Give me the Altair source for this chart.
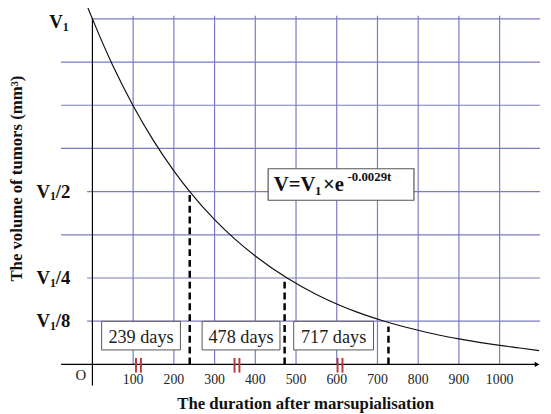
import altair as alt
import pandas as pd

FONT = "Liberation Serif"
GRID = "#7a7ac6"

# ---- data ----
curve_t = [-13, 0, 50, 100, 150, 200, 239, 300, 350, 400, 478, 550, 600, 650, 717,
           800, 850, 900, 950, 1000, 1050, 1097]
curve_v = [8.3, 8.0, 6.92, 5.99, 5.18, 4.48, 4.0, 3.35, 2.90, 2.51, 2.0, 1.62, 1.40,
           1.21, 1.0, 0.79, 0.68, 0.59, 0.51, 0.44, 0.38, 0.32]
x_ticks = [100, 200, 300, 400, 500, 600, 700, 800, 900, 1000]
grid_plain = [3, 5, 6, 7]
grid_labeled = [1, 2, 4]
label_suffix = ["/8", "/4", "/2"]
day_labels = ["239 days", "478 days", "717 days"]
day_box_start = [22.6, 269.4, 494.3]
day_box_end = [216.1, 460.6, 690.3]
dash_t = [239, 472, 727]
dash_top = [4.0, 2.0, 0.88]
break_t = [113, 355, 608]

XS = alt.Scale(domain=[-207.3, 1106.5], nice=False, zero=False)
YS = alt.Scale(domain=[-1.079, 8.182], nice=False, zero=False)


def xq(f):
    return alt.X(f, type="quantitative", scale=XS, axis=None)


def yq(f):
    return alt.Y(f, type="quantitative", scale=YS, axis=None)


layers = []

# horizontal grid
hg = pd.DataFrame(
    [{"u": u, "t1": -77, "t2": 1099} for u in grid_plain]
    + [{"u": u, "t1": -13, "t2": 1099} for u in grid_labeled]
    + [{"u": 8, "t1": 0, "t2": 1099}]
)
layers.append(alt.Chart(hg).mark_rule(color=GRID, strokeWidth=1.2).encode(
    y=yq("u"), x=xq("t1"), x2="t2"))

# vertical grid
vg = pd.DataFrame({"t": x_ticks, "u1": [0] * len(x_ticks), "u2": [8.07] * len(x_ticks)})
layers.append(alt.Chart(vg).mark_rule(color=GRID, strokeWidth=1.2).encode(
    x=xq("t"), y=yq("u1"), y2="u2"))

# axes
ax_x = pd.DataFrame({"u": [0], "t1": [-77], "t2": [1094]})
layers.append(alt.Chart(ax_x).mark_rule(color="black", strokeWidth=1.2).encode(
    y=yq("u"), x=xq("t1"), x2="t2"))
ax_y = pd.DataFrame({"t": [0], "u1": [-0.49], "u2": [8.02]})
layers.append(alt.Chart(ax_y).mark_rule(color="black", strokeWidth=1.2).encode(
    x=xq("t"), y=yq("u1"), y2="u2"))
arrow = pd.DataFrame({"t": [1092], "u": [0]})
layers.append(alt.Chart(arrow).mark_point(shape="triangle-right", filled=True, color="black",
                                          size=30, opacity=1).encode(x=xq("t"), y=yq("u")))

# curve
cv = pd.DataFrame({"t": curve_t, "v": curve_v})
layers.append(alt.Chart(cv).mark_line(color="#111", strokeWidth=1.2, interpolate="monotone").encode(
    x=xq("t"), y=yq("v")))

# dashed guide lines
dl = pd.DataFrame({"t": dash_t, "u1": [0] * 3, "u2": dash_top})
layers.append(alt.Chart(dl).mark_rule(color="black", strokeWidth=2.5, strokeDash=[7, 4]).encode(
    x=xq("t"), y=yq("u1"), y2="u2"))

# red axis-break marks
bk = pd.DataFrame([{"t": t + d, "u1": -0.19, "u2": 0.15} for t in break_t for d in (-6, 6)])
layers.append(alt.Chart(bk).mark_rule(color="#b83a3a", strokeWidth=2).encode(
    x=xq("t"), y=yq("u1"), y2="u2"))

# day boxes
db = pd.DataFrame({"t1": day_box_start, "t2": day_box_end, "u1": [0.335] * 3, "u2": [0.997] * 3,
                   "label": day_labels})
db["tc"] = (db["t1"] + db["t2"]) / 2
db["uc"] = 0.66
layers.append(alt.Chart(db).mark_rect(fill="white", stroke="#555", strokeWidth=1).encode(
    x=xq("t1"), x2="t2", y=yq("u1"), y2="u2"))
layers.append(alt.Chart(db).mark_text(font=FONT, fontSize=18.5, color="#222", baseline="middle",
                                      align="center", dy=1).encode(
    x=xq("tc"), y=yq("uc"), text="label:N"))

# equation box
eqb = pd.DataFrame({"t1": [431.5], "t2": [789.6], "u1": [3.80], "u2": [4.53]})
layers.append(alt.Chart(eqb).mark_rect(fill="white", stroke="#555", strokeWidth=1.2).encode(
    x=xq("t1"), x2="t2", y=yq("u1"), y2="u2"))
eq_parts = [("V=V", 21, 0, 0), ("1", 13, 42, 6), ("×e", 21, 50, 0), ("-0.0029t", 13, 75, -8)]
for txt, fs, dx, dy in eq_parts:
    d = pd.DataFrame({"t": [445.2], "u": [4.145], "s": [txt]})
    layers.append(alt.Chart(d).mark_text(font=FONT, fontSize=fs, fontWeight="bold", color="#111",
                                         align="left", baseline="middle", dx=dx, dy=dy).encode(
        x=xq("t"), y=yq("u"), text="s:N"))

# x tick labels
tl = pd.DataFrame({"t": x_ticks, "u": [-0.372] * len(x_ticks), "s": [str(v) for v in x_ticks]})
layers.append(alt.Chart(tl).mark_text(font=FONT, fontSize=14, color="#222", baseline="middle",
                                      align="center").encode(x=xq("t"), y=yq("u"), text="s:N"))
# origin
og = pd.DataFrame({"t": [-28.3], "u": [-0.258], "s": ["O"]})
layers.append(alt.Chart(og).mark_text(font=FONT, fontSize=15, color="#222", baseline="middle",
                                      align="center").encode(x=xq("t"), y=yq("u"), text="s:N"))

# y labels
yl = pd.DataFrame({"t": [-137.1] * 3, "u": grid_labeled, "v": ["V"] * 3, "one": ["1"] * 3,
                   "suf": label_suffix})
v1 = pd.DataFrame({"t": [-105.7], "u": [8], "v": ["V"], "one": ["1"]})
for d, dy0 in ((yl, 0), (v1, 3)):
    layers.append(alt.Chart(d).mark_text(font=FONT, fontSize=19, fontWeight="bold", color="#111",
                                         align="left", baseline="middle", dy=dy0).encode(
        x=xq("t"), y=yq("u"), text="v:N"))
    layers.append(alt.Chart(d).mark_text(font=FONT, fontSize=12, fontWeight="bold", color="#111",
                                         align="left", baseline="middle", dx=13.5, dy=dy0 + 5).encode(
        x=xq("t"), y=yq("u"), text="one:N"))
layers.append(alt.Chart(yl).mark_text(font=FONT, fontSize=19, fontWeight="bold", color="#111",
                                      align="left", baseline="middle", dx=19.5).encode(
    x=xq("t"), y=yq("u"), text="suf:N"))

# axis titles
xt = pd.DataFrame({"t": [523.6], "u": [-0.93], "s": ["The duration after marsupialisation"]})
layers.append(alt.Chart(xt).mark_text(font=FONT, fontSize=17, fontWeight="bold", color="#111",
                                      align="center", baseline="middle").encode(
    x=xq("t"), y=yq("u"), text="s:N"))
yt = pd.DataFrame({"t": [-185.5], "u": [4.3], "s": ["The volume of tumors (mm³)"]})
layers.append(alt.Chart(yt).mark_text(font=FONT, fontSize=17, fontWeight="bold", color="#111",
                                      align="center", baseline="middle", angle=270).encode(
    x=xq("t"), y=yq("u"), text="s:N"))

chart = alt.layer(*layers).properties(
    width=543, height=406, padding=0,
    autosize=alt.AutoSizeParams(type="none"),
    background="white",
).configure_view(stroke=None)

chart.save("out.html", embed_options={"renderer": "svg", "actions": False})
